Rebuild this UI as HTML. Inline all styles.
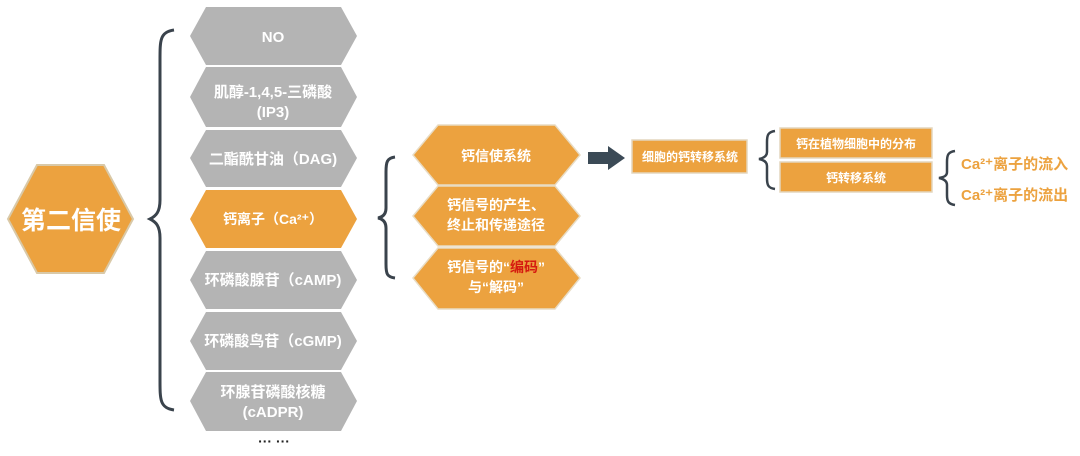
<!DOCTYPE html>
<html><head><meta charset="utf-8"><style>
html,body{margin:0;padding:0;background:#fff;}
svg{display:block;}
text{font-family:"Liberation Sans","Noto Sans CJK SC",sans-serif;font-weight:bold;fill:#fff;text-anchor:middle;}
</style></head><body>
<svg width="1080" height="456" viewBox="0 0 1080 456" xmlns="http://www.w3.org/2000/svg">
<polygon points="8,219 37,165 104,165 133,219 104,273 37,273" fill="#eca23f" stroke="#d9c9a8" stroke-width="2"/>
<text x="71" y="229" font-size="25">第二信使</text>
<path d="M174,30 C160,32 160,40 160,60 L160,200 C160,212 156,216 150,219 C156,222 160,226 160,238 L160,380 C160,400 160,408 174,410" fill="none" stroke="#3a434c" stroke-width="3"/>
<g fill="#b4b4b4">
<polygon points="190,36 206,7 341,7 357,36 341,65 206,65"/>
<polygon points="190,97 206,67 341,67 357,97 341,127 206,127"/>
<polygon points="190,158 206,130 341,130 357,158 341,187 206,187"/>
<polygon points="190,219 206,190 341,190 357,219 341,248 206,248" fill="#eca23f"/>
<polygon points="190,280 206,251 341,251 357,280 341,309 206,309"/>
<polygon points="190,341 206,312 341,312 357,341 341,370 206,370"/>
<polygon points="190,401 206,372 341,372 357,401 341,431 206,431"/>
</g>
<g font-size="15">
<text x="273" y="42">NO</text>
<text x="273" y="97">肌醇-1,4,5-三磷酸</text>
<text x="273" y="117">(IP3)</text>
<text x="273" y="164">二酯酰甘油（DAG)</text>
<text x="273" y="224" font-size="14">钙离子（Ca²⁺）</text>
<text x="273" y="285">环磷酸腺苷（cAMP)</text>
<text x="273" y="346">环磷酸鸟苷（cGMP)</text>
<text x="273" y="397">环腺苷磷酸核糖</text>
<text x="273" y="417">(cADPR)</text>
</g>
<text x="274" y="446" font-size="14" style="fill:#222">··· ···</text>
<path d="M395,157 C387,158 386,162 386,172 L386,208 C386,214 383,217 378,218 C383,219 386,222 386,228 L386,264 C386,274 387,277 395,278" fill="none" stroke="#3a434c" stroke-width="3"/>
<g fill="#eca23f" stroke="#e8dcc4" stroke-width="1.5">
<polygon points="413,155 438,125 555,125 580,155 555,185 438,185"/>
<polygon points="413,216 438,186 555,186 580,216 555,246 438,246"/>
<polygon points="413,278 438,248 555,248 580,278 555,309 438,309"/>
</g>
<g font-size="14">
<text x="496" y="161">钙信使系统</text>
<text x="496" y="210">钙信号的产生、</text>
<text x="496" y="230">终止和传递途径</text>
<text x="496" y="272">钙信号的“<tspan style="fill:#d51a10">编码</tspan>”</text>
<text x="496" y="292">与“解码”</text>
</g>
<polygon points="588,152 608,152 608,146 625,158 608,170 608,164 588,164" fill="#3b4a56"/>
<rect x="632" y="140" width="115" height="33" fill="#eca23f" stroke="#e4d6bd" stroke-width="1.5"/>
<text x="690" y="161" font-size="12">细胞的钙转移系统</text>
<path d="M775,131 C768,132 767,135 767,142 L767,152 C767,156 764,158 759,159 C764,160 767,162 767,166 L767,178 C767,185 768,188 775,189" fill="none" stroke="#3a434c" stroke-width="2.5"/>
<rect x="780" y="128" width="152" height="30" fill="#eca23f" stroke="#e4d6bd" stroke-width="1.5"/>
<rect x="780" y="162" width="152" height="30" fill="#eca23f" stroke="#e4d6bd" stroke-width="1.5"/>
<text x="856" y="148" font-size="12">钙在植物细胞中的分布</text>
<text x="856" y="182" font-size="12">钙转移系统</text>
<path d="M955,151 C948,152 947,155 947,162 L947,172 C947,176 944,177 939,178 C944,179 947,181 947,185 L947,195 C947,201 948,204 955,205" fill="none" stroke="#3a434c" stroke-width="2.5"/>
<text x="961" y="169" font-size="15" style="fill:#eca23f;text-anchor:start">Ca²⁺离子的流入</text>
<text x="961" y="200" font-size="15" style="fill:#eca23f;text-anchor:start">Ca²⁺离子的流出</text>
</svg>
</body></html>
